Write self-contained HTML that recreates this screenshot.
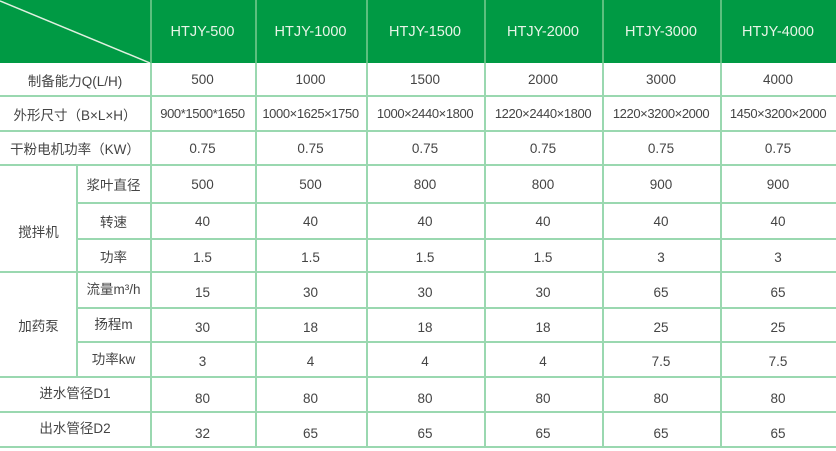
<!DOCTYPE html>
<html><head><meta charset="utf-8"><style>
body{margin:0;width:836px;height:448px;background:#fff;overflow:hidden;font-family:"Liberation Sans","Noto Sans CJK SC",sans-serif;color:#444;font-size:13.5px}
.c{position:absolute;display:flex;align-items:center;justify-content:center;white-space:nowrap}
.h{color:#e8f5e8;font-size:14.5px}
.hl{position:absolute;height:2px;background:#9ad8b0}
.vl{position:absolute;width:2px;background:#9ad8b0}
.s{font-size:13px;letter-spacing:-0.4px}
</style></head><body>
<div style="position:absolute;left:0;top:0;width:836px;height:63px;background:#009a44"></div>
<svg style="position:absolute;left:0;top:0" width="150" height="63"><line x1="0" y1="1" x2="150" y2="63" stroke="#e0f0e0" stroke-width="1.5"/></svg>
<div style="position:absolute;left:150px;top:0;width:2px;height:63px;background:#5cbf7e"></div>
<div style="position:absolute;left:255px;top:0;width:2px;height:63px;background:#5cbf7e"></div>
<div style="position:absolute;left:366px;top:0;width:2px;height:63px;background:#5cbf7e"></div>
<div style="position:absolute;left:484px;top:0;width:2px;height:63px;background:#5cbf7e"></div>
<div style="position:absolute;left:602px;top:0;width:2px;height:63px;background:#5cbf7e"></div>
<div style="position:absolute;left:720px;top:0;width:2px;height:63px;background:#5cbf7e"></div>
<div id="t"></div>
<script>
var X=[150,255,366,484,602,720,836];
var R=[63,96,131,165,203,239,272,308,342,377,412,447];
var o='';
function cell(x1,x2,y1,y2,t,cls,dy){o+='<div class="c '+(cls||'')+'" style="left:'+x1+'px;width:'+(x2-x1)+'px;top:'+(y1+(dy||0))+'px;height:'+(y2-y1)+'px">'+t+'</div>';}
var hd=['HTJY-500','HTJY-1000','HTJY-1500','HTJY-2000','HTJY-3000','HTJY-4000'];
for(var i=0;i<6;i++)cell(X[i],X[i+1],0,63,hd[i],'h');
var data=[
['制备能力Q(L/H)','500','1000','1500','2000','3000','4000'],
['外形尺寸（B×L×H）','900*1500*1650','1000×1625×1750','1000×2440×1800','1220×2440×1800','1220×3200×2000','1450×3200×2000'],
['干粉电机功率（KW）','0.75','0.75','0.75','0.75','0.75','0.75'],
['浆叶直径','500','500','800','800','900','900'],
['转速','40','40','40','40','40','40'],
['功率','1.5','1.5','1.5','1.5','3','3'],
['流量m³/h','15','30','30','30','65','65'],
['扬程m','30','18','18','18','25','25'],
['功率kw','3','4','4','4','7.5','7.5'],
['进水管径D1','80','80','80','80','80','80'],
['出水管径D2','32','65','65','65','65','65']];
for(var r=0;r<11;r++){
 var d=data[r],y1=R[r],y2=R[r+1],dy=r>=9?4:(r>=5?2:0);
 var sub=(r>=3&&r<=8);
 cell(sub?77:0,150,y1,y2,d[0],'',r>=9?-3:(r>=6?-2:0));
 for(var i=0;i<6;i++)cell(X[i],X[i+1],y1,y2,d[i+1],r==1?'s':'',dy);
}
cell(0,77,R[3],R[6],'搅拌机','',12);
cell(0,77,R[6],R[9],'加药泵');
for(var r=1;r<R.length;r++){var x0=(r>=4&&r<=5)||(r>=7&&r<=8)?77:0;o+='<div class="hl" style="left:'+x0+'px;width:'+(836-x0)+'px;top:'+(R[r]-1)+'px"></div>';}
for(var i=0;i<6;i++)o+='<div class="vl" style="left:'+X[i]+'px;top:63px;height:385px"></div>';
o+='<div class="vl" style="left:76px;top:165px;height:212px"></div>';
document.getElementById('t').innerHTML=o;
</script>
</body></html>
